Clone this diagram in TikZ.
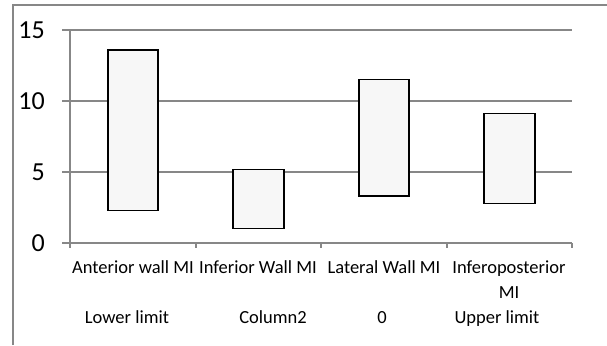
\documentclass[tikz,border=0pt]{standalone}
\usepackage{fontspec}
\setmainfont{Carlito}
\begin{document}
\begin{tikzpicture}[x=1pt,y=-1pt,
  frame/.style={draw=black!47,line width=1.3pt},
  grid/.style={draw=black!47,line width=1.3pt},
  bar/.style={draw=black,fill=black!3,line width=1.3pt},
  ylab/.style={anchor=east,font=\fontsize{26}{28}\selectfont,inner sep=0pt},
  clab/.style={font=\fontsize{18.5}{22}\selectfont,inner sep=0pt,align=center,anchor=base}]
\useasboundingbox (0,0) rectangle (607,345);
% frame
\draw[frame] (13,345) -- (13,5) -- (607,5);
% gridlines
\foreach \v/\yy in {0/243,5/172,10/101,15/30}{
  \draw[grid] (62,\yy) -- (572,\yy);
  \node[ylab] (y\v) at (45,\yy) {\v};
}
\draw[grid] (70,30) -- (70,248);
\foreach \xx in {196,321,447,572}{ \draw[grid] (\xx,243) -- (\xx,248); }
% bars (14.2 px per unit, 0 at 243)
\draw[bar] (108,{243-13.6*14.2}) rectangle (158,{243-2.3*14.2});
\draw[bar] (233,{243-5.2*14.2}) rectangle (284,{243-1.0*14.2});
\draw[bar] (359,{243-11.5*14.2}) rectangle (409,{243-3.3*14.2});
\draw[bar] (484,{243-9.1*14.2}) rectangle (535,{243-2.8*14.2});
% category labels
\node[clab] (c1) at (133,273) {Anterior wall MI};
\node[clab] (c2) at (258,273) {Inferior Wall MI};
\node[clab] (c3) at (384,273) {Lateral Wall MI};
\node[clab] (c4) at (509,273) {Inferoposterior};
\node[clab] (c4b) at (509,298) {MI};
% legend-like row
\node[clab] (l1) at (127,323) {Lower limit};
\node[clab] (l2) at (273,323) {Column2};
\node[clab] (l3) at (382,323) {0};
\node[clab] (l4) at (497,323) {Upper limit};
\end{tikzpicture}
\end{document}
